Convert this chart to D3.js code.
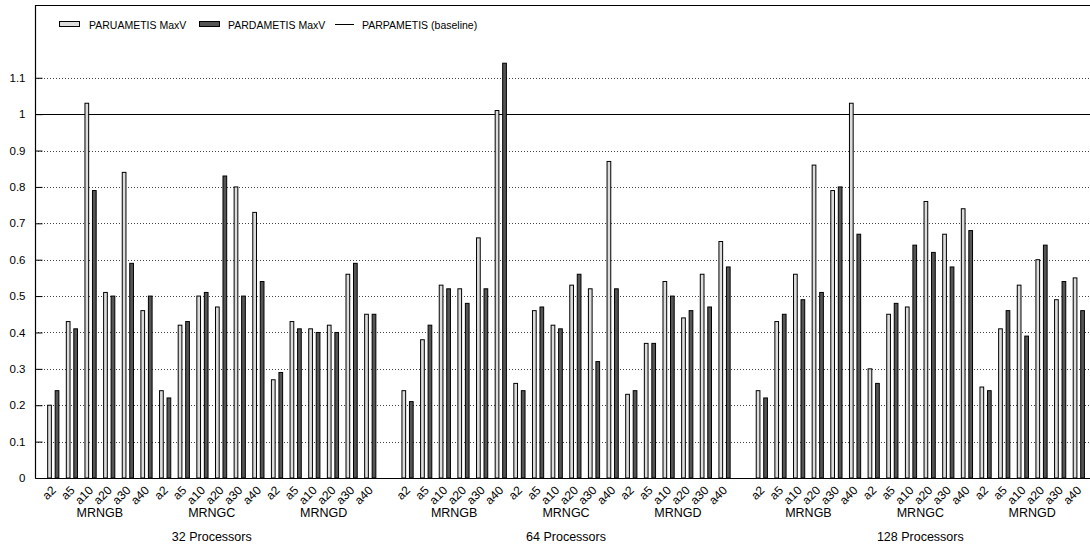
<!DOCTYPE html>
<html>
<head>
<meta charset="utf-8">
<script src="https://cdn.jsdelivr.net/npm/d3@7"></script>
<style>
  html, body { margin: 0; padding: 0; background: #fff; }
  svg text { font-family: "Liberation Sans", Arial, Helvetica, sans-serif; fill: #000; }
</style>
</head>
<body>
<svg id="chart" width="1090" height="548"></svg>
<script>
// ---- data ----
const processors = ["32 Processors", "64 Processors", "128 Processors"];
const meshes = ["MRNGB", "MRNGC", "MRNGD"];
const alphas = ["a2", "a5", "a10", "a20", "a30", "a40"];
const seriesNames = ["PARUAMETIS MaxV", "PARDAMETIS MaxV"];
const baselineName = "PARPAMETIS (baseline)";
const baselineValue = 1;
const yTicks = [0, 0.1, 0.2, 0.3, 0.4, 0.5, 0.6, 0.7, 0.8, 0.9, 1, 1.1];

// PARUAMETIS MaxV, ordered processors -> mesh -> alpha
const paruametis = [
  // 32 processors
  0.20, 0.43, 1.03, 0.51, 0.84, 0.46,
  0.24, 0.42, 0.50, 0.47, 0.80, 0.73,
  0.27, 0.43, 0.41, 0.42, 0.56, 0.45,
  // 64 processors
  0.24, 0.38, 0.53, 0.52, 0.66, 1.01,
  0.26, 0.46, 0.42, 0.53, 0.52, 0.87,
  0.23, 0.37, 0.54, 0.44, 0.56, 0.65,
  // 128 processors
  0.24, 0.43, 0.56, 0.86, 0.79, 1.03,
  0.30, 0.45, 0.47, 0.76, 0.67, 0.74,
  0.25, 0.41, 0.53, 0.60, 0.49, 0.55
];
// PARDAMETIS MaxV
const pardametis = [
  // 32 processors
  0.24, 0.41, 0.79, 0.50, 0.59, 0.50,
  0.22, 0.43, 0.51, 0.83, 0.50, 0.54,
  0.29, 0.41, 0.40, 0.40, 0.59, 0.45,
  // 64 processors
  0.21, 0.42, 0.52, 0.48, 0.52, 1.14,
  0.24, 0.47, 0.41, 0.56, 0.32, 0.52,
  0.24, 0.37, 0.50, 0.46, 0.47, 0.58,
  // 128 processors
  0.22, 0.45, 0.49, 0.51, 0.80, 0.67,
  0.26, 0.48, 0.64, 0.62, 0.58, 0.68,
  0.24, 0.46, 0.39, 0.64, 0.54, 0.46
];

(function () {
// ---- layout ----
const svg = d3.select("#chart");
const pLeft = 35, pRight = 1090, pTop = 5, pBottom = 478;
const slotsPerProc = meshes.length * alphas.length + 1; // one empty slot between processor groups

const rows = [];
processors.forEach((p, pi) => meshes.forEach((m, mi) => alphas.forEach((a, ai) => {
  const k = pi * meshes.length * alphas.length + mi * alphas.length + ai;
  rows.push({ proc: p, mesh: m, alpha: a, slot: pi * slotsPerProc + mi * alphas.length + ai,
              v1: paruametis[k], v2: pardametis[k] });
})));

const x = d3.scaleLinear().domain([-0.98, 55.6]).range([pLeft, pRight]);
const y = d3.scaleLinear().domain([0, 1.3]).range([pBottom, pTop]);
const bw = 3.7;

// grid
svg.append("g").selectAll("line").data(yTicks.filter(d => d > 0)).join("line")
  .attr("x1", pLeft).attr("x2", pRight)
  .attr("y1", d => Math.round(y(d)) + 0.5).attr("y2", d => Math.round(y(d)) + 0.5)
  .attr("stroke", "#444").attr("stroke-width", 1).attr("stroke-dasharray", "1,2");

// y axis
const yAxis = d3.axisLeft(y).tickValues(yTicks).tickFormat(d3.format("~g")).tickSize(-7).tickPadding(10);
const gy = svg.append("g").attr("transform", `translate(${pLeft + 0.5},0)`).call(yAxis);
gy.select(".domain").remove();
gy.selectAll(".tick line").attr("stroke", "#000");
gy.selectAll(".tick text").attr("font-size", 11.5).attr("font-family", "Liberation Sans, Arial, sans-serif");

// baseline
svg.append("line").attr("x1", pLeft).attr("x2", pRight)
  .attr("y1", Math.round(y(baselineValue)) + 0.5).attr("y2", Math.round(y(baselineValue)) + 0.5)
  .attr("stroke", "#000").attr("stroke-width", 1);

// bars
const bars = svg.append("g");
bars.selectAll("rect.s1").data(rows).join("rect").attr("class", "s1")
  .attr("x", d => x(d.slot) - 5.6).attr("width", bw)
  .attr("y", d => y(d.v1)).attr("height", d => y(0) - y(d.v1))
  .attr("fill", "#dcdcdc").attr("stroke", "#000").attr("stroke-width", 1);
bars.selectAll("rect.s2").data(rows).join("rect").attr("class", "s2")
  .attr("x", d => x(d.slot) + 1.9).attr("width", bw)
  .attr("y", d => y(d.v2)).attr("height", d => y(0) - y(d.v2))
  .attr("fill", "#555").attr("stroke", "#000").attr("stroke-width", 1);

// frame
svg.append("path")
  .attr("d", `M${pLeft + 0.5},${pBottom + 0.5}V${pTop + 0.5}H${pRight + 5}M${pLeft + 0.5},${pBottom + 0.5}H${pRight + 5}`)
  .attr("fill", "none").attr("stroke", "#000").attr("stroke-width", 1.2);

// x tick labels (rotated)
const xAxis = d3.axisBottom(x).tickValues(rows.map(d => d.slot))
  .tickFormat(s => rows.find(r => r.slot === s).alpha).tickSize(0);
const gx = svg.append("g").attr("transform", `translate(0,${pBottom})`).call(xAxis);
gx.select(".domain").remove();
gx.selectAll(".tick text")
  .attr("font-size", 12).attr("font-family", "Liberation Sans, Arial, sans-serif")
  .attr("text-anchor", "end").attr("dy", null).attr("y", 0)
  .attr("transform", "translate(3,13) rotate(-45)");

// mesh labels
const meshGroups = [];
processors.forEach((p, pi) => meshes.forEach((m, mi) => {
  const s0 = pi * slotsPerProc + mi * alphas.length;
  meshGroups.push({ label: m, c: (s0 + s0 + alphas.length - 1) / 2 });
}));
svg.append("g").selectAll("text").data(meshGroups).join("text")
  .attr("x", d => x(d.c)).attr("y", 517).attr("text-anchor", "middle")
  .attr("font-size", 12.5).text(d => d.label);

// processor labels
svg.append("g").selectAll("text").data(processors).join("text")
  .attr("x", (d, pi) => x(pi * slotsPerProc + (meshes.length * alphas.length - 1) / 2))
  .attr("y", 541).attr("text-anchor", "middle").attr("font-size", 12.5).text(d => d);

// legend
const lg = svg.append("g").attr("font-size", 10.5);
lg.append("rect").attr("x", 59.5).attr("y", 21.5).attr("width", 20).attr("height", 5)
  .attr("fill", "#dcdcdc").attr("stroke", "#000");
lg.append("text").attr("x", 89).attr("y", 28.5).text(seriesNames[0]);
lg.append("rect").attr("x", 199.5).attr("y", 21.5).attr("width", 20).attr("height", 5)
  .attr("fill", "#555").attr("stroke", "#000");
lg.append("text").attr("x", 228).attr("y", 28.5).text(seriesNames[1]);
lg.append("line").attr("x1", 335).attr("x2", 354).attr("y1", 24.5).attr("y2", 24.5)
  .attr("stroke", "#000");
lg.append("text").attr("x", 362).attr("y", 28.5).text(baselineName);
})();
</script>
</body>
</html>
